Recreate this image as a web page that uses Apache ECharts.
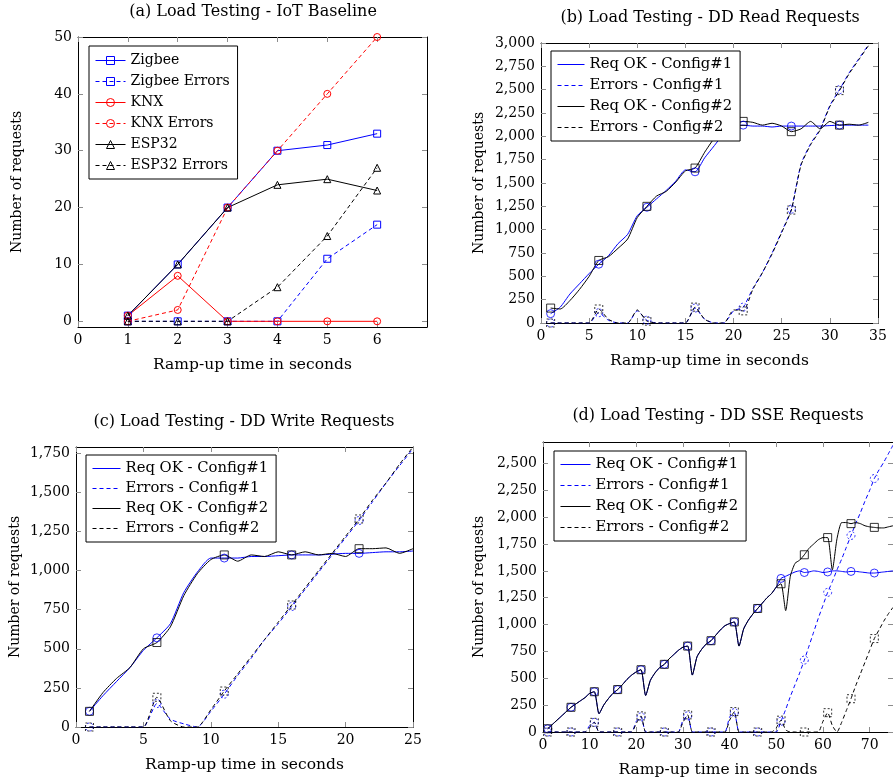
<!DOCTYPE html>
<html>
<head>
<meta charset="utf-8">
<title>Load Testing</title>
<script src="https://cdn.jsdelivr.net/npm/echarts@6/dist/echarts.min.js"></script>
<style>
  html, body { margin: 0; padding: 0; background: #fff; }
  #chart { width: 893px; height: 782px; }
</style>
</head>
<body>
<div id="chart"></div>
<script>
// (a) IoT baseline
var rampA = [1, 2, 3, 4, 5, 6];
var zigbee = [1, 10, 20, 30, 31, 33];
var zigbeeErr = [0, 0, 0, 0, 11, 17];
var knx = [1, 8, 0, 0, 0, 0];
var knxErr = [0, 2, 20, 30, 40, 50];
var esp32 = [1, 10, 20, 24, 25, 23];
var esp32Err = [0, 0, 0, 6, 15, 27];

// (b) DD read requests
var secB = [1, 2, 3, 4, 5, 6, 7, 8, 9, 10, 11, 12, 13, 14, 15, 16, 17, 18, 19, 20, 21, 22, 23, 24, 25, 26, 27, 28, 29, 30, 31, 32, 33, 34];
var readOk1 = [100, 170, 310, 420, 530, 630, 720, 850, 950, 1150, 1240, 1330, 1420, 1520, 1640, 1620, 1770, 1900, 2030, 2110, 2120, 2110, 2110, 2100, 2110, 2110, 2110, 2110, 2110, 2115, 2120, 2120, 2120, 2120];
var readErr1 = [0, 0, 0, 0, 0, 110, 30, 0, 0, 130, 30, 0, 0, 0, 0, 160, 40, 0, 0, 130, 170, 370, 540, 750, 980, 1220, 1700, 1920, 2080, 2330, 2500, 2680, 2830, 2980];
var readOk2 = [160, 150, 240, 360, 500, 670, 710, 800, 900, 1130, 1250, 1360, 1410, 1510, 1630, 1660, 1830, 1980, 2080, 2130, 2160, 2150, 2120, 2140, 2110, 2050, 2080, 2160, 2080, 2160, 2120, 2130, 2120, 2150];
var readErr2 = [0, 0, 0, 0, 0, 150, 40, 0, 0, 140, 20, 0, 0, 0, 0, 170, 40, 0, 0, 140, 130, 360, 540, 740, 970, 1210, 1690, 1910, 2070, 2320, 2490, 2670, 2820, 2970];

// (c) DD write requests
var secC = [1, 2, 3, 4, 5, 6, 7, 8, 9, 10, 11, 12, 13, 14, 15, 16, 17, 18, 19, 20, 21, 22, 23, 24, 25];
var writeOk1 = [100, 200, 290, 380, 490, 570, 660, 860, 990, 1080, 1080, 1080, 1090, 1090, 1095, 1100, 1100, 1100, 1105, 1110, 1110, 1115, 1120, 1120, 1125];
var writeErr1 = [0, 0, 0, 0, 0, 150, 50, 20, 0, 100, 210, 330, 440, 560, 660, 770, 880, 990, 1100, 1210, 1320, 1440, 1560, 1670, 1780];
var writeOk2 = [100, 220, 310, 380, 500, 540, 640, 840, 980, 1070, 1100, 1060, 1100, 1090, 1120, 1100, 1120, 1100, 1110, 1090, 1140, 1140, 1145, 1110, 1140];
var writeErr2 = [0, 0, 0, 0, 0, 190, 40, 0, 0, 110, 230, 340, 450, 560, 670, 780, 890, 1000, 1110, 1220, 1330, 1450, 1560, 1680, 1790];

// (d) DD SSE requests
var secD = [1, 2, 3, 4, 5, 6, 7, 8, 9, 10, 11, 12, 13, 14, 15, 16, 17, 18, 19, 20, 21, 22, 23, 24, 25, 26, 27, 28, 29, 30, 31, 32, 33, 34, 35, 36, 37, 38, 39, 40, 41, 42, 43, 44, 45, 46, 47, 48, 49, 50, 51, 52, 53, 54, 55, 56, 57, 58, 59, 60, 61, 62, 63, 64, 65, 66, 67, 68, 69, 70, 71, 72, 73, 74, 75];
var sseOk1 = [30, 70, 110, 150, 190, 230, 260, 290, 320, 360, 375, 170, 250, 310, 360, 395, 440, 490, 530, 560, 580, 340, 480, 550, 600, 630, 680, 720, 760, 790, 800, 530, 700, 770, 820, 850, 900, 950, 990, 1010, 1025, 800, 960, 1040, 1100, 1150, 1200, 1250, 1290, 1350, 1430, 1450, 1470, 1490, 1500, 1485, 1490, 1500, 1495, 1485, 1490, 1500, 1500, 1495, 1490, 1495, 1495, 1490, 1485, 1480, 1480, 1485, 1490, 1495, 1500];
var sseErr1 = [0, 0, 0, 0, 0, 0, 0, 0, 0, 60, 90, 0, 0, 0, 0, 0, 0, 0, 0, 100, 140, 0, 0, 0, 0, 0, 0, 0, 0, 110, 150, 0, 0, 0, 0, 0, 0, 0, 0, 140, 180, 0, 0, 0, 0, 0, 0, 0, 0, 0, 100, 210, 330, 440, 550, 670, 800, 930, 1060, 1180, 1300, 1400, 1510, 1610, 1720, 1830, 1940, 2040, 2150, 2250, 2360, 2440, 2510, 2590, 2670];
var sseOk2 = [30, 70, 110, 150, 190, 230, 260, 290, 320, 360, 375, 170, 250, 310, 360, 395, 440, 490, 530, 560, 580, 340, 480, 550, 600, 630, 680, 720, 760, 790, 800, 530, 700, 770, 820, 850, 900, 950, 990, 1010, 1025, 800, 960, 1040, 1100, 1150, 1200, 1250, 1290, 1350, 1380, 1130, 1450, 1570, 1600, 1650, 1710, 1750, 1790, 1810, 1810, 1510, 1800, 1950, 1950, 1940, 1950, 1940, 1920, 1910, 1905, 1900, 1900, 1910, 1920];
var sseErr2 = [0, 0, 0, 0, 0, 0, 0, 0, 0, 40, 90, 0, 0, 0, 0, 0, 0, 0, 0, 80, 150, 0, 0, 0, 0, 0, 0, 0, 0, 90, 160, 0, 0, 0, 0, 0, 0, 0, 0, 110, 190, 0, 0, 0, 0, 0, 0, 0, 0, 40, 110, 20, 0, 0, 0, 0, 0, 0, 0, 100, 180, 60, 0, 90, 200, 310, 430, 540, 650, 760, 870, 950, 1030, 1100, 1160];

// tick labels
var xTicksA = [0, 1, 2, 3, 4, 5, 6];
var yTicksA = [0, 10, 20, 30, 40, 50];
var xTicksB = [0, 5, 10, 15, 20, 25, 30, 35];
var yTicksB = [0, 250, 500, 750, 1000, 1250, 1500, 1750, 2000, 2250, 2500, 2750, 3000];
var xTicksC = [0, 5, 10, 15, 20, 25];
var yTicksC = [0, 250, 500, 750, 1000, 1250, 1500, 1750];
var xTicksD = [0, 10, 20, 30, 40, 50, 60, 70];
var yTicksD = [0, 250, 500, 750, 1000, 1250, 1500, 1750, 2000, 2250, 2500];

var FONT = 'DejaVu Serif';
var BLUE = '#0000ff';
var RED = '#ff0000';
var BLACK = '#000000';
var DASH = [4, 3];

function pairs(xs, ys) {
  return xs.map(function (x, i) { return [x, ys[i]]; });
}
// markers only every 5th sample, like pgfplots "mark repeat"
function marks(xs, ys) {
  return pairs(xs, ys).filter(function (p, i) { return i % 5 === 0; });
}
function fmt(v) {
  return v.toLocaleString('en-US');
}

function xAxes(grid, min, max, ticks) {
  var tick = { inside: true, length: 5, customValues: ticks, lineStyle: { color: '#8c8c8c' } };
  return [
    {
      type: 'value', gridIndex: grid, position: 'bottom', min: min, max: max,
      name: 'Ramp-up time in seconds', nameLocation: 'middle', nameGap: 30,
      nameTextStyle: { fontFamily: FONT, fontSize: 15.5, color: '#000' },
      axisLine: { show: true, onZero: false, lineStyle: { color: '#000', width: 1 } },
      axisTick: tick,
      axisLabel: { customValues: ticks, margin: 6, fontFamily: FONT, fontSize: 14, color: '#000', formatter: fmt },
      splitLine: { show: false }
    },
    {
      type: 'value', gridIndex: grid, position: 'top', min: min, max: max,
      axisLine: { show: true, onZero: false, lineStyle: { color: '#000', width: 1 } },
      axisTick: tick,
      axisLabel: { show: false },
      splitLine: { show: false }
    }
  ];
}
function yAxes(grid, min, max, ticks, gap) {
  var tick = { inside: true, length: 5, customValues: ticks, lineStyle: { color: '#8c8c8c' } };
  return [
    {
      type: 'value', gridIndex: grid, position: 'left', min: min, max: max,
      name: 'Number of requests', nameLocation: 'middle', nameGap: gap,
      nameTextStyle: { fontFamily: FONT, fontSize: 14, color: '#000' },
      axisLine: { show: true, onZero: false, lineStyle: { color: '#000', width: 1 } },
      axisTick: tick,
      axisLabel: { customValues: ticks, margin: 6, fontFamily: FONT, fontSize: 14, color: '#000', formatter: fmt },
      splitLine: { show: false }
    },
    {
      type: 'value', gridIndex: grid, position: 'right', min: min, max: max,
      axisLine: { show: true, onZero: false, lineStyle: { color: '#000', width: 1 } },
      axisTick: tick,
      axisLabel: { show: false },
      splitLine: { show: false }
    }
  ];
}

function lineA(name, ys, color, symbol, dashed) {
  return {
    name: name, type: 'line', xAxisIndex: 0, yAxisIndex: 0,
    data: pairs(rampA, ys),
    symbol: symbol, symbolSize: 7,
    itemStyle: { color: 'rgba(255,255,255,0)', borderColor: color, borderWidth: 1 },
    lineStyle: { color: color, width: 1, type: dashed ? DASH : 'solid' },
    emphasis: { disabled: true }
  };
}
// series names carry a panel prefix ("b|...") so each legend maps to its own panel
function lineD(name, g, xs, ys, color, dashed) {
  return {
    name: 'bcd'[g - 1] + '|' + name, type: 'line', xAxisIndex: 2 * g, yAxisIndex: 2 * g,
    data: pairs(xs, ys), symbol: 'none', smooth: 0.2,
    itemStyle: { color: color },
    lineStyle: { color: color, width: 1, type: dashed ? DASH : 'solid' },
    emphasis: { disabled: true }
  };
}
function markD(g, xs, ys, color, symbol, dashed) {
  return {
    name: 'mk', type: 'scatter', xAxisIndex: 2 * g, yAxisIndex: 2 * g,
    data: marks(xs, ys), symbol: symbol, symbolSize: 8,
    itemStyle: { color: 'rgba(255,255,255,0)', borderColor: color, borderWidth: 1, borderType: dashed ? [2, 2] : 'solid' },
    emphasis: { disabled: true }, z: 3
  };
}

var legendNames = ['Req OK - Config#1', 'Errors - Config#1', 'Req OK - Config#2', 'Errors - Config#2'];
var legendColors = [BLUE, BLUE, BLACK, BLACK];
function legendDD(g, left, top, iconW, gap) {
  return {
    left: left, top: top, orient: 'vertical', itemWidth: iconW, itemHeight: 14, itemGap: gap,
    padding: [5, 8, 5, 6], borderColor: '#000', borderWidth: 1, backgroundColor: '#fff', borderRadius: 0,
    textStyle: { fontFamily: FONT, fontSize: 14.8, lineHeight: 17, color: '#000' },
    formatter: function (n) { return n.split('|')[1]; },
    data: legendNames.map(function (n, i) {
      return {
        name: 'bcd'[g - 1] + '|' + n,
        itemStyle: { opacity: 0 },
        lineStyle: { color: legendColors[i], width: 1, type: i % 2 ? DASH : 'solid', opacity: 1 }
      };
    }),
    selectedMode: false
  };
}

var titleStyle = { fontFamily: FONT, fontSize: 16, fontWeight: 'normal', color: '#000' };

var option = {
  animation: false,
  backgroundColor: '#fff',
  title: [
    { text: '(a) Load Testing - IoT Baseline', left: 253, top: 4, textAlign: 'center', padding: 0, textStyle: titleStyle },
    { text: '(b) Load Testing - DD Read Requests', left: 710, top: 10, textAlign: 'center', padding: 0, textStyle: titleStyle },
    { text: '(c) Load Testing - DD Write Requests', left: 244, top: 414, textAlign: 'center', padding: 0, textStyle: titleStyle },
    { text: '(d) Load Testing - DD SSE Requests', left: 718, top: 408, textAlign: 'center', padding: 0, textStyle: titleStyle }
  ],
  grid: [
    { left: 78, top: 37, width: 349, height: 290 },
    { left: 541, top: 43, width: 337, height: 280 },
    { left: 76, top: 447, width: 337, height: 280 },
    { left: 543, top: 442, width: 350, height: 290 }
  ],
  xAxis: [].concat(
    xAxes(0, 0, 7, xTicksA),
    xAxes(1, 0, 35, xTicksB),
    xAxes(2, 0, 25, xTicksC),
    xAxes(3, 0, 75, xTicksD)
  ),
  yAxis: [].concat(
    yAxes(0, -1, 50, yTicksA, 54),
    yAxes(1, 0, 3000, yTicksB, 55),
    yAxes(2, 0, 1790, yTicksC, 54),
    yAxes(3, 0, 2700, yTicksD, 57)
  ),
  legend: [
    {
      left: 89, top: 46, orient: 'vertical', itemWidth: 30, itemHeight: 10, itemGap: 4,
      padding: [6, 8, 5, 6], borderColor: '#000', borderWidth: 1, backgroundColor: '#fff',
      textStyle: { fontFamily: FONT, fontSize: 14, lineHeight: 17, color: '#000' },
      lineStyle: { width: 1 },
      itemStyle: { borderWidth: 1 },
      data: ['Zigbee', 'Zigbee Errors', 'KNX', 'KNX Errors', 'ESP32', 'ESP32 Errors'],
      selectedMode: false
    },
    legendDD(1, 551, 51, 27, 4),
    legendDD(2, 86, 455, 28, 3),
    legendDD(3, 554, 451, 30, 4)
  ],
  series: [
    lineA('Zigbee', zigbee, BLUE, 'rect', false),
    lineA('Zigbee Errors', zigbeeErr, BLUE, 'rect', true),
    lineA('KNX', knx, RED, 'circle', false),
    lineA('KNX Errors', knxErr, RED, 'circle', true),
    lineA('ESP32', esp32, BLACK, 'triangle', false),
    lineA('ESP32 Errors', esp32Err, BLACK, 'triangle', true),

    lineD('Req OK - Config#1', 1, secB, readOk1, BLUE, false),
    lineD('Errors - Config#1', 1, secB, readErr1, BLUE, true),
    lineD('Req OK - Config#2', 1, secB, readOk2, BLACK, false),
    lineD('Errors - Config#2', 1, secB, readErr2, BLACK, true),
    markD(1, secB, readOk1, BLUE, 'circle', false),
    markD(1, secB, readErr1, BLUE, 'circle', true),
    markD(1, secB, readOk2, BLACK, 'rect', false),
    markD(1, secB, readErr2, BLACK, 'rect', true),

    lineD('Req OK - Config#1', 2, secC, writeOk1, BLUE, false),
    lineD('Errors - Config#1', 2, secC, writeErr1, BLUE, true),
    lineD('Req OK - Config#2', 2, secC, writeOk2, BLACK, false),
    lineD('Errors - Config#2', 2, secC, writeErr2, BLACK, true),
    markD(2, secC, writeOk1, BLUE, 'circle', false),
    markD(2, secC, writeErr1, BLUE, 'circle', true),
    markD(2, secC, writeOk2, BLACK, 'rect', false),
    markD(2, secC, writeErr2, BLACK, 'rect', true),

    lineD('Req OK - Config#1', 3, secD, sseOk1, BLUE, false),
    lineD('Errors - Config#1', 3, secD, sseErr1, BLUE, true),
    lineD('Req OK - Config#2', 3, secD, sseOk2, BLACK, false),
    lineD('Errors - Config#2', 3, secD, sseErr2, BLACK, true),
    markD(3, secD, sseOk1, BLUE, 'circle', false),
    markD(3, secD, sseErr1, BLUE, 'circle', true),
    markD(3, secD, sseOk2, BLACK, 'rect', false),
    markD(3, secD, sseErr2, BLACK, 'rect', true)
  ]
};

var chart = echarts.init(document.getElementById('chart'));
chart.setOption(option);
</script>
</body>
</html>
